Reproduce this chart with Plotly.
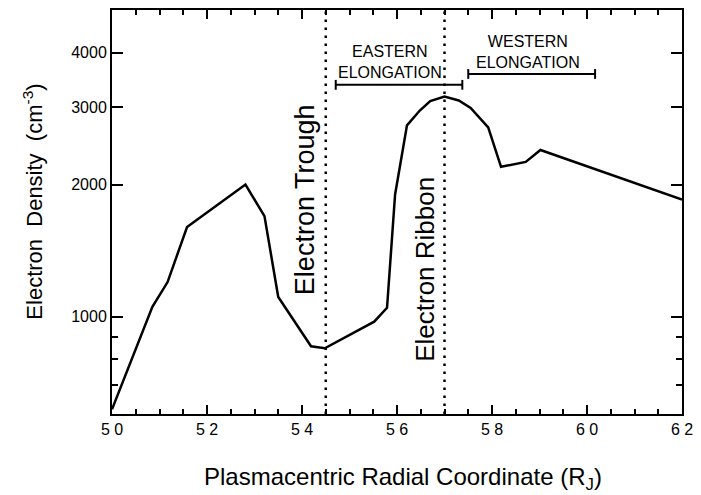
import math
import plotly.graph_objects as go

# Electron density profile across the plasma torus
radial_coord = [5.00, 5.085, 5.117, 5.158, 5.281, 5.321, 5.35, 5.419, 5.448,
                5.552, 5.579, 5.596, 5.621, 5.648, 5.67, 5.70, 5.73, 5.755,
                5.792, 5.819, 5.871, 5.902, 6.20]
electron_density = [615, 1053, 1199, 1601, 2000, 1695, 1109, 856, 847,
                    974, 1048, 1899, 2729, 2950, 3100, 3175, 3110, 2990,
                    2700, 2196, 2253, 2398, 1850]

# Feature markers
trough_x = 5.45
ribbon_x = 5.70
eastern_span = [5.471, 5.7375]
eastern_level = 3376
western_span = [5.75, 6.017]
western_level = 3574

x_range = [5.0, 6.2]
y_range = [600, 5000]
x_tickvals = [5.0, 5.2, 5.4, 5.6, 5.8, 6.0, 6.2]
x_ticktext = ["5 0", "5 2", "5 4", "5 6", "5 8", "6 0", "6 2"]
y_tickvals = [1000, 2000, 3000, 4000]
y_ticktext = ["1000", "2000", "3000", "4000"]
y_minor_vals = [700, 800, 900]

FONT = "Liberation Sans, Arial, Helvetica, sans-serif"

fig = go.Figure()

fig.add_trace(go.Scatter(
    x=radial_coord, y=electron_density, mode="lines",
    line=dict(color="black", width=2.5), showlegend=False, hoverinfo="skip"))

for xv in (trough_x, ribbon_x):
    fig.add_trace(go.Scatter(
        x=[xv, xv], y=y_range, mode="lines",
        line=dict(color="black", width=2.5, dash="2.5px,5.5px"),
        showlegend=False, hoverinfo="skip"))

for span, level in ((eastern_span, eastern_level), (western_span, western_level)):
    fig.add_trace(go.Scatter(
        x=span, y=[level, level], mode="lines+markers",
        line=dict(color="black", width=2),
        marker=dict(symbol="line-ns", size=7, color="black",
                    line=dict(color="black", width=2)),
        showlegend=False, hoverinfo="skip"))

annotations = [
    dict(x=5.408, y=math.log10(1851), text="Electron Trough", textangle=-90,
         font=dict(size=27, family=FONT, color="black")),
    dict(x=5.660, y=math.log10(1282), text="Electron Ribbon", textangle=-90,
         font=dict(size=26, family=FONT, color="black")),
    dict(x=5.585, y=math.log10(3800), text="EASTERN<br>ELONGATION",
         font=dict(size=16, family=FONT, color="black")),
    dict(x=5.875, y=math.log10(4010), text="WESTERN<br>ELONGATION",
         font=dict(size=16, family=FONT, color="black")),
    dict(xref="paper", yref="paper", x=-0.139, y=0.525,
         text="Electron  Density  (cm<sup>-3</sup>)", textangle=-90,
         font=dict(size=22, family=FONT, color="black")),
    dict(xref="paper", yref="paper", x=0.511, y=-0.160,
         text="Plasmacentric Radial Coordinate (R<sub>J</sub>)",
         font=dict(size=24, family=FONT, color="black")),
]
for a in annotations:
    a.setdefault("xref", "x")
    a.setdefault("yref", "y")
    a.update(showarrow=False, xanchor="center", yanchor="middle")

fig.update_layout(
    width=701, height=495,
    margin=dict(l=112, r=13, t=8, b=81),
    paper_bgcolor="white", plot_bgcolor="white",
    font=dict(family=FONT, color="black"),
    annotations=annotations,
)

fig.update_xaxes(
    range=x_range, tickmode="array", tickvals=x_tickvals, ticktext=x_ticktext,
    ticks="inside", ticklen=9, tickwidth=1.5, tickcolor="black",
    minor=dict(dtick=0.05, tick0=5.0, ticks="inside", ticklen=5,
               tickwidth=1.5, tickcolor="black", showgrid=False),
    showline=True, linewidth=2, linecolor="black", mirror="allticks",
    showgrid=False, zeroline=False,
    tickfont=dict(size=16, family=FONT, color="black"),
)

fig.update_yaxes(
    type="log", range=[math.log10(y_range[0]), math.log10(y_range[1])],
    tickmode="array", tickvals=y_tickvals, ticktext=y_ticktext,
    ticks="inside", ticklen=11, tickwidth=1.5, tickcolor="black",
    minor=dict(tickmode="array", tickvals=y_minor_vals, ticks="inside",
               ticklen=6, tickwidth=1.5, tickcolor="black", showgrid=False),
    showline=True, linewidth=2, linecolor="black", mirror="allticks",
    showgrid=False, zeroline=False,
    tickfont=dict(size=16, family=FONT, color="black"),
)

fig.write_html("out.html")
